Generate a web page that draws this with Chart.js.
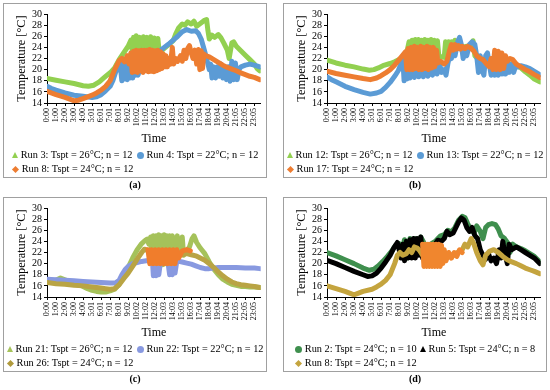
<!DOCTYPE html>
<html>
<head>
<meta charset="utf-8">
<script src="https://cdn.jsdelivr.net/npm/chart.js@4"></script>
<style>
  body { margin: 0; width: 550px; height: 390px; background: #fff; position: relative; overflow: hidden; font-family: "Liberation Serif", serif; }
  .box { position: absolute; width: 262px; height: 173px; border: 1px solid #a0a0a0; }
  .box canvas { position: absolute; left: 0; top: 0; }
  .lg { position: absolute; left: 0; right: 0; top: 144px; display: grid; grid-template-columns: auto auto; justify-content: center; column-gap: 3px; font-size: 10.3px; line-height: 14px; color: #000; }
  .it { white-space: nowrap; display: flex; align-items: center; }
  .mk { display: inline-block; margin-right: 3px; }
  .tri { width: 0; height: 0; border-left: 3.5px solid transparent; border-right: 3.5px solid transparent; border-bottom: 6px solid; }
  .cir { width: 7px; height: 7px; border-radius: 50%; }
  .dia { width: 5px; height: 5px; transform: rotate(45deg); margin-left: 1px; margin-right: 4px; }
  .cap { position: absolute; width: 264px; text-align: center; font-weight: bold; font-size: 10px; line-height: 12px; }
</style>
</head>
<body>
<div class="box" style="left:3px;top:3px"><canvas id="ca" width="262" height="146"></canvas><div class="lg" id="la"></div></div>
<div class="box" style="left:283px;top:3px"><canvas id="cb" width="262" height="146"></canvas><div class="lg" id="lb"></div></div>
<div class="box" style="left:3px;top:197px"><canvas id="cc" width="262" height="146"></canvas><div class="lg" id="lc"></div></div>
<div class="box" style="left:283px;top:197px"><canvas id="cd" width="262" height="146"></canvas><div class="lg" id="ld"></div></div>
<div class="cap" style="left:3px;top:179px">(a)</div>
<div class="cap" style="left:283px;top:179px">(b)</div>
<div class="cap" style="left:3px;top:373px">(c)</div>
<div class="cap" style="left:283px;top:373px">(d)</div>
<script>
const timeLabels = ['0:00','1:00','2:00','3:00','4:00','5:01','6:01','7:01','8:01','9:02','10:02','11:02',
  '12:02','13:03','14:03','15:03','16:03','17:04','18:04','19:04','20:04','21:05','22:05','23:05'];
const yTicks = [14, 16, 18, 20, 22, 24, 26, 28, 30];

// [hour, temperature]

// panel (a)
const run3 = [[0,18.4],[1,18.1],[2,17.8],[3,17.5],[4,17.1],[4.6,17.0],[5.2,17.2],[5.8,17.8],[6.3,18.5],[6.8,19.2],[7.1,19.6],[7.5,20.3],[8,21.8],[8.5,23],[9,24.2],[9.3,25.3],[9.45,23.5],[9.6,25.8],[9.75,23.6],[9.9,26.1],[10.05,23.5],[10.3,25.8],[10.45,23.2],[10.7,25.9],[10.85,23.2],[11.1,25.8],[11.25,23],[11.5,25.9],[11.65,23],[11.9,25.7],[12.05,23],[12.3,25.6],[12.45,23],[13,23.8],[13.5,24.5],[14,25.2],[14.3,26.5],[14.6,27.5],[15,28.2],[15.3,28.0],[15.6,28.6],[16,28.2],[16.3,28.7],[16.6,27.8],[17,28.3],[17.4,28.8],[17.7,29.0],[17.85,27],[18,25.5],[18.3,26.2],[18.6,25.8],[19,26.3],[19.3,25.7],[19.6,24.8],[20,23.5],[20.2,22],[20.5,24.8],[20.7,25],[21,24.2],[21.5,23.4],[22,22.6],[22.5,21.8],[23,21],[23.3,20.2],[23.6,19.8]];
const run4 = [[0,17.0],[0.5,16.6],[1,16.3],[2,15.8],[3,15.4],[4,15.2],[5,15.0],[5.5,15.1],[6,15.5],[6.5,16.2],[7,17],[7.3,18],[7.6,19.5],[7.9,20.5],[8.1,21.3],[8.3,18],[8.45,21.8],[8.6,18.3],[8.75,21.8],[8.9,18.2],[9.05,21.8],[9.2,18.5],[9.35,22],[9.5,18.5],[9.65,22],[9.8,19],[9.95,22],[10.1,19],[10.5,21.5],[11,20],[11.5,21.5],[12,21],[12.3,23],[12.6,23.5],[13,24],[13.5,24.6],[14,25.3],[14.5,26],[15,26.8],[15.5,27.2],[16,26.9],[16.5,27],[16.8,26.5],[17.1,25.5],[17.4,23.8],[17.7,22],[18,20],[18.15,21],[18.3,18.5],[18.5,20.5],[18.7,18.5],[18.9,20.5],[19.1,18.8],[19.3,21],[19.5,18.5],[19.7,20.3],[19.9,18.2],[20.1,20.5],[20.3,17.9],[20.5,21.5],[20.7,18.2],[20.9,21.2],[21.1,18.2],[21.3,20],[21.5,20.5],[22,20.8],[22.5,21],[23,20.8],[23.6,20.5]];
const run8a = [[0,16.1],[1,15.5],[2,15],[3,14.4],[3.5,14.5],[4,14.8],[5,15.4],[5.5,15.8],[6,16.3],[6.5,17],[7,18],[7.5,20],[8,21.6],[8.3,22],[8.6,21.4],[8.9,22.5],[9.1,21],[9.3,23],[9.45,19.5],[9.6,23.3],[9.75,19.6],[9.9,23.5],[10.05,19.5],[10.2,23.4],[10.35,19.8],[10.5,23.5],[10.65,19.5],[10.8,23.5],[10.95,19.8],[11.1,23.5],[11.25,19.6],[11.4,23.6],[11.55,19.7],[11.7,23.5],[11.85,19.6],[12.0,23.4],[12.15,19.8],[12.3,23.5],[12.45,20],[12.6,23.2],[12.75,20.2],[12.9,22.8],[13.05,20.5],[13.2,22.5],[13.35,20.5],[13.5,22],[13.7,21],[13.9,24],[14.05,21],[14.3,22],[14.5,21.5],[14.8,22.5],[15,21.5],[15.2,23.5],[15.4,22],[15.6,23.8],[15.8,24.3],[16,23],[16.2,22],[16.4,23.5],[16.6,21],[16.8,23.6],[16.95,20],[17.1,23.4],[17.25,20.2],[17.4,22.8],[17.6,22.5],[18,22.3],[18.5,21.8],[19,21.3],[19.5,20.8],[20,20.4],[20.5,20.1],[21,19.8],[21.5,19.4],[22,19.1],[22.5,18.8],[23,18.6],[23.6,18.2]];

// panel (b)
const run12 = [[0,21.7],[1,21.2],[2,20.8],[3,20.5],[4,20.1],[4.7,19.9],[5.2,20.0],[5.7,20.3],[6.2,20.7],[7,21.1],[7.5,21.4],[8,21.8],[8.5,22.3],[8.9,23.5],[9.1,25],[9.25,22.5],[9.45,25.3],[9.6,22.3],[9.8,25.4],[9.95,22.2],[10.15,25.4],[10.3,22.3],[10.5,25.3],[10.65,22.2],[10.85,25.4],[11.0,22.3],[11.2,25.3],[11.35,22.2],[11.55,25.4],[11.7,22.3],[11.9,25.3],[12.05,22.5],[12.25,25.2],[12.4,22.5],[12.7,22.3],[13,22.2],[13.15,25],[13.3,22.5],[13.5,25],[13.65,22.5],[13.85,25],[14,23],[14.2,25.3],[14.5,24.2],[15,24],[15.5,24.2],[16,24],[16.2,25.2],[16.4,22.5],[16.8,21.8],[17.2,21.5],[17.5,21.3],[18,21.2],[18.5,21],[19,20.9],[19.5,20.9],[20,21],[20.5,21],[21,20.8],[21.5,20.3],[22,19.6],[22.5,19],[23,18.3],[23.6,17.8]];
const run13 = [[0,18.7],[0.5,18.2],[1,17.8],[2,17.0],[3,16.4],[4,15.9],[4.8,15.6],[5.5,15.8],[6,16.1],[6.5,16.8],[7,17.7],[7.5,18.8],[7.9,19.8],[8.2,21],[8.4,22.3],[8.55,18],[8.7,22],[8.85,18.3],[9,21.5],[9.2,18.5],[9.5,21],[9.7,18.6],[10,21],[10.2,18.7],[10.5,21],[10.7,18.7],[11,21],[11.2,18.8],[11.5,21],[11.7,19],[12,21],[12.2,19.2],[12.5,21],[12.7,19.5],[13,20],[13.2,19],[13.4,21],[13.6,22.5],[13.8,22],[14,24],[14.2,22.5],[14.5,25],[14.7,25.8],[14.9,24.5],[15.1,22],[15.3,23],[15.5,22.5],[15.8,24.5],[16.1,25],[16.4,24.5],[16.6,22.5],[16.8,19.5],[17,22.5],[17.2,20],[17.4,19],[17.6,22.5],[17.8,23],[18,21],[18.2,19],[18.4,22],[18.6,19],[18.8,22.5],[19,19],[19.2,22],[19.4,19.2],[19.6,21.5],[19.8,19.2],[20,21.5],[20.2,19.5],[20.5,21],[20.7,19.5],[21,21],[21.2,20.5],[21.5,20.7],[22,20.5],[22.5,20.2],[23,19.7],[23.6,19.1]];
const run17 = [[0,19.7],[1,19.3],[2,19],[3,18.7],[4,18.4],[4.8,18.2],[5.5,18.5],[6,18.9],[6.5,19.4],[7,20],[7.5,20.8],[8,21.8],[8.5,22.8],[8.7,23.2],[8.85,20],[9,23.8],[9.15,20],[9.35,24],[9.5,20],[9.7,24.2],[9.85,20.2],[10.05,24],[10.2,20],[10.4,24.2],[10.55,20],[10.75,24],[10.9,20.2],[11.1,24.2],[11.25,20],[11.45,24],[11.6,20.3],[11.8,24],[11.95,20.5],[12.15,23.5],[12.3,21.2],[12.6,21.5],[13,21],[13.3,21.5],[13.6,23.5],[13.8,24.5],[14,23.5],[14.2,24.5],[14.4,23.7],[14.6,24.3],[14.8,23.7],[15,24.2],[15.3,23.8],[15.6,24.2],[16,23.8],[16.3,23.3],[16.6,22.5],[17,22],[17.3,21.8],[17.6,21.2],[18,20.5],[18.2,22],[18.4,20],[18.6,23.5],[18.8,20],[19,23.3],[19.2,20],[19.4,23],[19.6,20.2],[19.8,22.5],[20,21.5],[20.3,22],[20.6,21.8],[21,21],[21.5,20.5],[22,20],[22.5,19.6],[23,19.1],[23.6,18.6]];

// panel (c)
const run21 = [[0,16.8],[0.5,16.9],[1,17],[1.5,17.4],[2,17.1],[2.5,16.8],[3,16.5],[3.5,16.2],[4,15.9],[4.5,15.5],[5,15.2],[5.5,15.0],[6,14.9],[6.5,14.9],[7,15.1],[7.5,15.4],[8,16.3],[8.5,17.8],[9,19.3],[9.5,21],[10,22.5],[10.5,23.6],[10.9,24.2],[11.1,24.4],[11.3,23.5],[11.5,24.8],[11.65,20.5],[11.8,25],[11.95,20],[12.1,25],[12.25,19.5],[12.4,25.2],[12.55,20],[12.7,25],[12.85,19.8],[13,25.2],[13.15,20],[13.3,25],[13.45,20],[13.6,25],[13.75,20.5],[13.9,25],[14.05,21],[14.2,23.5],[14.45,25],[14.6,21.5],[14.8,22],[15,24.8],[15.15,21.5],[15.4,22],[15.8,23],[16.1,24.5],[16.3,25],[16.6,23.8],[17,22.8],[17.5,21.8],[18,20.3],[18.5,19],[19,18],[19.5,17.2],[20,16.7],[20.5,16.3],[21,16.1],[21.5,15.9],[22,15.9],[22.5,15.8],[23,15.8],[23.6,15.7]];
const run22 = [[0,17.2],[1,17.1],[2,17],[3,16.9],[4,16.8],[5,16.7],[6,16.6],[7,16.5],[7.6,16.5],[8,17],[8.3,18],[8.7,19],[9,19.5],[9.5,20],[10,20.2],[10.5,20.4],[11,20.5],[11.5,20.5],[11.7,20.3],[11.8,17.8],[11.95,20.3],[12.1,17.8],[12.25,20.5],[12.4,18],[12.6,20.5],[13,20.5],[13.4,20.5],[13.6,18],[13.75,20.5],[13.9,18],[14.05,20.5],[14.2,18.3],[14.4,20.5],[15,20.3],[15.5,20.1],[16,19.9],[16.5,19.6],[17,19.3],[17.5,19.1],[18,19.1],[19,19.3],[20,19.3],[21,19.3],[22,19.2],[23,19.2],[23.6,19.1]];
const run26 = [[0,16.6],[1,16.4],[2,16.3],[3,16.1],[4,16],[5,15.8],[5.5,15.7],[6,15.6],[6.5,15.5],[7,15.4],[7.5,15.5],[8,16.2],[8.5,17.3],[9,18.3],[9.5,19.5],[10,20.8],[10.5,22],[10.8,22.6],[11,22.5],[11.5,21.8],[12,21.5],[13,21.5],[14,21.5],[15,21.6],[15.5,21.8],[16,21.6],[16.5,21.4],[17,21],[17.5,20.6],[18,20],[18.5,19.3],[19,18.5],[19.5,17.8],[20,17.2],[20.5,16.7],[21,16.4],[21.5,16.2],[22,16.1],[22.5,16],[23,15.9],[23.6,15.7]];
const run26Block = [[11.2,22.5],[11.4,20],[11.6,22.5],[11.8,20],[12,22.5],[12.2,20],[12.4,22.5],[12.6,20],[12.8,22.5],[13,20],[13.2,22.5],[13.4,20],[13.6,22.5],[13.8,20],[14,22.5],[14.2,20],[14.4,22.5],[14.6,21],[15,22.3],[15.5,22.5],[15.9,22.3]];

// panel (d)
const run2 = [[0,22],[1,21.4],[2,20.7],[3,20],[4,19.2],[4.7,18.8],[5.2,19],[5.7,19.6],[6.2,20.4],[6.7,21.3],[7.2,22.3],[7.6,23.3],[8,23.6],[8.3,22.5],[8.6,24.3],[8.9,21],[9.2,24.5],[9.5,21.5],[9.8,24.5],[10.1,22],[10.4,24.8],[11,23],[12,24],[12.3,24.5],[12.6,25],[13,25.2],[13.4,26],[13.8,25.7],[14.2,26.5],[14.6,27.8],[15,28.5],[15.3,28.3],[15.6,27.2],[16,26],[16.3,25.5],[16.6,26.8],[17,25.8],[17.3,24.5],[17.6,26.5],[17.9,27],[18.3,27.2],[18.7,27],[19,26.2],[19.3,25],[19.7,24.5],[20,23.8],[20.3,22],[20.6,23.5],[21,23],[21.5,22.7],[22,22.3],[22.5,21.8],[23,21.3],[23.6,20.3]];
const run5 = [[0,20.6],[1,20],[2,19.3],[3,18.6],[4,18],[4.5,17.7],[5,17.8],[5.5,18.3],[6,19.2],[6.5,20.3],[7,21.5],[7.4,22.8],[7.8,23.8],[8,22.5],[8.2,21],[8.4,23.5],[8.6,20.5],[8.8,24],[9,21],[9.2,24.3],[9.4,21],[9.6,24.5],[9.8,21],[10,24.5],[10.2,21.5],[10.4,24.8],[10.6,21],[11,22],[11.5,22.5],[12,23.5],[12.3,24.2],[12.7,24],[13,24.5],[13.3,25.8],[13.6,25.2],[14,25.5],[14.3,26.5],[14.6,27.5],[14.9,28.2],[15.2,27.8],[15.5,26.5],[15.8,25.8],[16.1,26.5],[16.4,25],[16.7,24.5],[17,22.5],[17.3,21.5],[17.6,20.8],[17.9,21.8],[18.2,20.5],[18.5,21],[18.8,20],[19.1,22.5],[19.3,21],[19.5,24],[19.7,22],[20,20],[20.2,23.5],[20.5,22.5],[21,23],[21.5,22.5],[22,22],[22.5,21.5],[23,21],[23.6,20]];
const run8d = [[0,16],[1,15.5],[2,15],[2.5,14.7],[3,14.4],[3.5,14.7],[4,15],[5,15.4],[5.5,15.8],[6,16.3],[6.5,17],[7,18],[7.5,20],[7.8,21.5],[8.1,22],[8.4,21.5],[8.8,21.8],[9.1,22.5],[9.4,22],[9.7,23],[10,22.8],[10.3,22.3],[10.6,21.5],[13,21],[13.5,21.2],[14,21.5],[14.5,22],[15,22.5],[15.3,23.5],[15.6,23],[16,24.5],[16.3,23.5],[16.6,22],[17,20.5],[17.3,19.8],[17.6,21.5],[18,22.2],[18.5,22.5],[19,22],[19.5,21.3],[20,20.7],[20.5,20.3],[21,20],[21.5,19.6],[22,19.2],[22.5,18.9],[23,18.6],[23.6,18.2]];
const run8dBlock = [[10.6,23.5],[10.75,19.5],[10.9,23.5],[11.05,19.5],[11.2,23.5],[11.35,19.5],[11.5,23.5],[11.65,19.5],[11.8,23.5],[11.95,19.5],[12.1,23.5],[12.25,19.5],[12.4,23.5],[12.55,19.5],[12.7,23.3],[12.85,20],[13,22.5],[13.2,20.5],[13.5,22],[13.8,21],[14.1,22],[14.4,21.3],[14.7,22.5],[15,22]];

const FONT = 'Liberation Serif';

function buildChart(id, series) {
  new Chart(document.getElementById(id), {
    type: 'line',
    data: {
      datasets: series.map(s => ({
        data: s.pts.map(p => ({ x: p[0], y: p[1] })),
        borderColor: s.color,
        borderWidth: 5,
        pointRadius: 0,
        tension: 0,
        order: s.order,
        borderJoinStyle: 'round',
        borderCapStyle: 'round'
      }))
    },
    options: {
      responsive: false,
      animation: false,
      events: [],
      layout: { padding: { top: 10, right: 1, left: 0, bottom: 0 } },
      plugins: { legend: { display: false }, tooltip: { enabled: false } },
      scales: {
        x: {
          type: 'linear', min: 0, max: 23.7,
          afterBuildTicks: s => { s.ticks = timeLabels.map((_, i) => ({ value: i })); },
          afterFit: s => { s.height = 47; },
          grid: { drawOnChartArea: false, drawTicks: true, tickLength: 3, color: '#000' },
          border: { color: '#000', width: 1 },
          ticks: { autoSkip: false, minRotation: 90, maxRotation: 90, padding: 2, color: '#000',
                   font: { family: FONT, size: 8 }, callback: v => timeLabels[v] },
          title: { display: true, text: 'Time', color: '#000', font: { family: FONT, size: 12 },
                   padding: { top: 0, bottom: 4 } }
        },
        y: {
          min: 14, max: 30,
          afterBuildTicks: s => { s.ticks = yTicks.map(v => ({ value: v })); },
          afterFit: s => { s.width = 43; },
          grid: { drawOnChartArea: false, drawTicks: true, tickLength: 3, color: '#000' },
          border: { color: '#000', width: 1 },
          ticks: { autoSkip: false, padding: 2, color: '#000', font: { family: FONT, size: 10 } },
          title: { display: true, text: 'Temperature [°C]', color: '#000', font: { family: FONT, size: 12.3 },
                   padding: { top: 10, bottom: 0 } }
        }
      }
    }
  });
}

function buildLegend(id, items) {
  const el = document.getElementById(id);
  items.forEach(it => {
    const d = document.createElement('div');
    d.className = 'it';
    const m = document.createElement('span');
    m.className = 'mk ' + it.shape;
    if (it.shape === 'tri') m.style.borderBottomColor = it.color; else m.style.background = it.color;
    d.appendChild(m);
    d.appendChild(document.createTextNode(it.text));
    el.appendChild(d);
  });
}

const GREEN = '#92d050', BLUE = '#5b9bd5', ORANGE = '#ed7d31';

buildChart('ca', [
  { pts: run3, color: GREEN, order: 3 },
  { pts: run4, color: BLUE, order: 2 },
  { pts: run8a, color: ORANGE, order: 1 }
]);
buildLegend('la', [
  { shape: 'tri', color: GREEN, text: 'Run 3: Tspt = 26°C; n = 12' },
  { shape: 'cir', color: BLUE, text: 'Run 4: Tspt = 22°C; n = 12' },
  { shape: 'dia', color: ORANGE, text: 'Run 8: Tspt = 24°C; n = 12' }
]);

buildChart('cb', [
  { pts: run12, color: GREEN, order: 3 },
  { pts: run13, color: BLUE, order: 2 },
  { pts: run17, color: ORANGE, order: 1 }
]);
buildLegend('lb', [
  { shape: 'tri', color: GREEN, text: 'Run 12: Tspt = 26°C; n = 12' },
  { shape: 'cir', color: BLUE, text: 'Run 13: Tspt = 22°C; n = 12' },
  { shape: 'dia', color: ORANGE, text: 'Run 17: Tspt = 24°C; n = 12' }
]);

buildChart('cc', [
  { pts: run21, color: '#a5c25a', order: 4 },
  { pts: run22, color: '#8899e0', order: 3 },
  { pts: run26, color: '#b9a444', order: 2 },
  { pts: run26Block, color: '#f07d2c', order: 1 }
]);
buildLegend('lc', [
  { shape: 'tri', color: '#a5c25a', text: 'Run 21: Tspt = 26°C; n = 12' },
  { shape: 'cir', color: '#8899e0', text: 'Run 22: Tspt = 22°C; n = 12' },
  { shape: 'dia', color: '#b09a3c', text: 'Run 26: Tspt = 24°C; n = 12' }
]);

buildChart('cd', [
  { pts: run2, color: '#3f8f4e', order: 4 },
  { pts: run5, color: '#000000', order: 3 },
  { pts: run8d, color: '#c4a43e', order: 2 },
  { pts: run8dBlock, color: '#f0862e', order: 1 }
]);
buildLegend('ld', [
  { shape: 'cir', color: '#3f8f4e', text: 'Run 2: Tspt = 24°C; n = 10' },
  { shape: 'tri', color: '#000000', text: 'Run 5: Tspt = 24°C; n = 8' },
  { shape: 'dia', color: '#c4a43e', text: 'Run 8: Tspt = 24°C; n = 12' }
]);
</script>
</body>
</html>
